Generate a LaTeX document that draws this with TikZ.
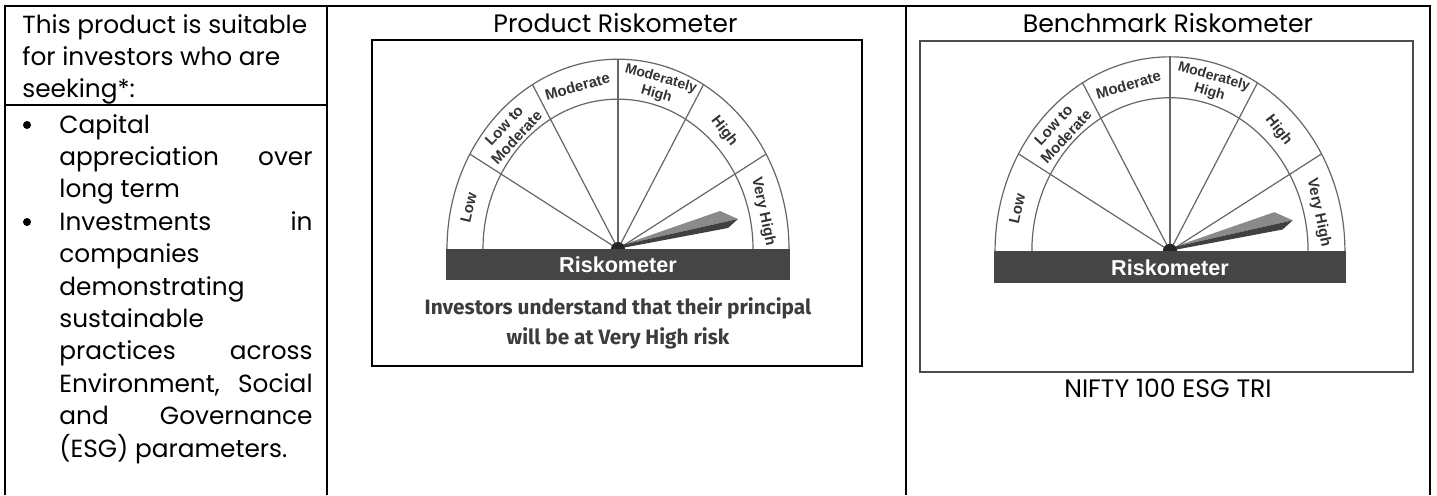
\documentclass[tikz,border=0pt]{standalone}
\usepackage{fontspec}
\newfontfamily\lib{Liberation Sans}
\newfontfamily\fira{Fira Sans}
\newfontfamily\adv{Poppins}
\definecolor{barc}{HTML}{454545}
\definecolor{lblc}{HTML}{333333}
\definecolor{arcc}{HTML}{666666}
\definecolor{notec}{HTML}{3C3C3C}
\definecolor{needleup}{HTML}{8A8A8A}
\definecolor{needlelo}{HTML}{404040}
\tikzset{
  tbl/.style={line width=1pt, black},
  bodytxt/.style={font=\adv\fontsize{12.4}{14}\selectfont, inner sep=0pt, anchor=base west},
  bodyr/.style={bodytxt, anchor=base east},
  headtxt/.style={font=\adv\fontsize{12.6}{14}\selectfont, inner sep=0pt, anchor=base},
  arcline/.style={line width=0.6pt, arcc},
  band/.style={font=\lib\bfseries\fontsize{7.5}{8.6}\selectfont, text=lblc, inner sep=0pt, align=center},
  bandsm/.style={band, font=\lib\bfseries\fontsize{7}{8}\selectfont},
  barlbl/.style={font=\lib\bfseries\fontsize{10.8}{12}\selectfont, text=white, inner sep=0pt},
  note/.style={font=\fira\bfseries\fontsize{10.4}{12}\selectfont, text=notec, inner sep=0pt, anchor=base},
  bul/.style={circle, fill=black, inner sep=0pt, minimum size=4pt}
}
\newcommand\rmeter[1]{%
  \begin{scope}[yscale=-1.11]
    \draw[arcline] (171,0) arc[start angle=0,end angle=180,radius=171];
    \draw[arcline] (135,0) arc[start angle=0,end angle=180,radius=135];
    \foreach \a in {30,60,90,120,150} \draw[arcline] (0,0) -- (\a:171);
    \node[band, rotate=77] (#1low) at (166:154) {Low};
    \node[band, rotate=47] (#1ltm) at (135.5:151) {Low to\\Moderate};
    \node[band, rotate=16] (#1mod) at (105.5:152) {Moderate};
    \node[bandsm, rotate=-16] (#1mh) at (74.5:152) {Moderately\\High};
    \node[band, rotate=-52] (#1high) at (45:150) {High};
    \node[band, rotate=-78] (#1vh) at (13:149) {Very High};
  \end{scope}
  \fill[needleup] (4,-4) -- (102,-38) -- (120,-30) -- cycle;
  \fill[needlelo] (4,-4) -- (120,-30) -- (110,-21) -- (4,-1) -- cycle;
  \fill[black!85] (0,0) circle[radius=7];
  \fill[barc] (-172,0) rectangle (172,31);
  \node[barlbl] (#1bar) at (0,16) {Riskometer};
}
\begin{document}
\begin{tikzpicture}[x=0.5pt,y=-0.5pt]
\useasboundingbox (0,0) rectangle (1437,495);
\fill[white] (0,0) rectangle (1437,495);
% table
\draw[tbl] (5,495) -- (5,6) -- (1430,6) -- (1430,495);
\draw[tbl] (327,6) -- (327,495);
\draw[tbl] (906,6) -- (906,495);
\draw[tbl] (5,105) -- (327,105);
% left column
\node[bodytxt] (h1) at (22,33) {This product is suitable};
\node[bodytxt] (h2) at (22,65) {for investors who are};
\node[bodytxt] (h3) at (22,97) {seeking*:};
\node[bul] (bu1) at (27,125) {};
\node[bul] (bu2) at (27,222) {};
\node[bodytxt] (l0) at (59,133) {Capital};
\node[bodytxt] (l1a) at (59,165.4) {appreciation};
\node[bodyr] (l1b) at (313,165.4) {over};
\node[bodytxt] (l2) at (59,197.8) {long term};
\node[bodytxt] (l3a) at (59,230.2) {Investments};
\node[bodyr] (l3b) at (313,230.2) {in};
\node[bodytxt] (l4) at (59,262.6) {companies};
\node[bodytxt] (l5) at (59,295) {demonstrating};
\node[bodytxt] (l6) at (59,327.4) {sustainable};
\node[bodytxt] (l7a) at (59,359.8) {practices};
\node[bodyr] (l7b) at (313,359.8) {across};
\node[bodytxt] (l8a) at (59,392.2) {Environment,};
\node[bodyr] (l8b) at (313,392.2) {Social};
\node[bodytxt] (l9a) at (59,424.6) {and};
\node[bodyr] (l9b) at (313,424.6) {Governance};
\node[bodytxt] (l10) at (59,457) {(ESG) parameters.};
% product riskometer
\node[headtxt] (ptitle) at (615.5,32) {Product Riskometer};
\draw[line width=1pt, black] (372,40) rectangle (862,366);
\begin{scope}[shift={(618,249)}]
  \rmeter{p}
\end{scope}
\node[note] (n1) at (618,314) {Investors understand that their principal};
\node[note] (n2) at (618,344) {will be at Very High risk};
% benchmark riskometer
\node[headtxt] (btitle) at (1168,32) {Benchmark Riskometer};
\draw[line width=0.7pt, black!70] (920,41) rectangle (1413,372);
\begin{scope}[shift={(1170,251)}, scale=1.023]
  \rmeter{b}
\end{scope}
\node[headtxt] (nifty) at (1168,397) {NIFTY 100 ESG TRI};
\end{tikzpicture}
\end{document}
